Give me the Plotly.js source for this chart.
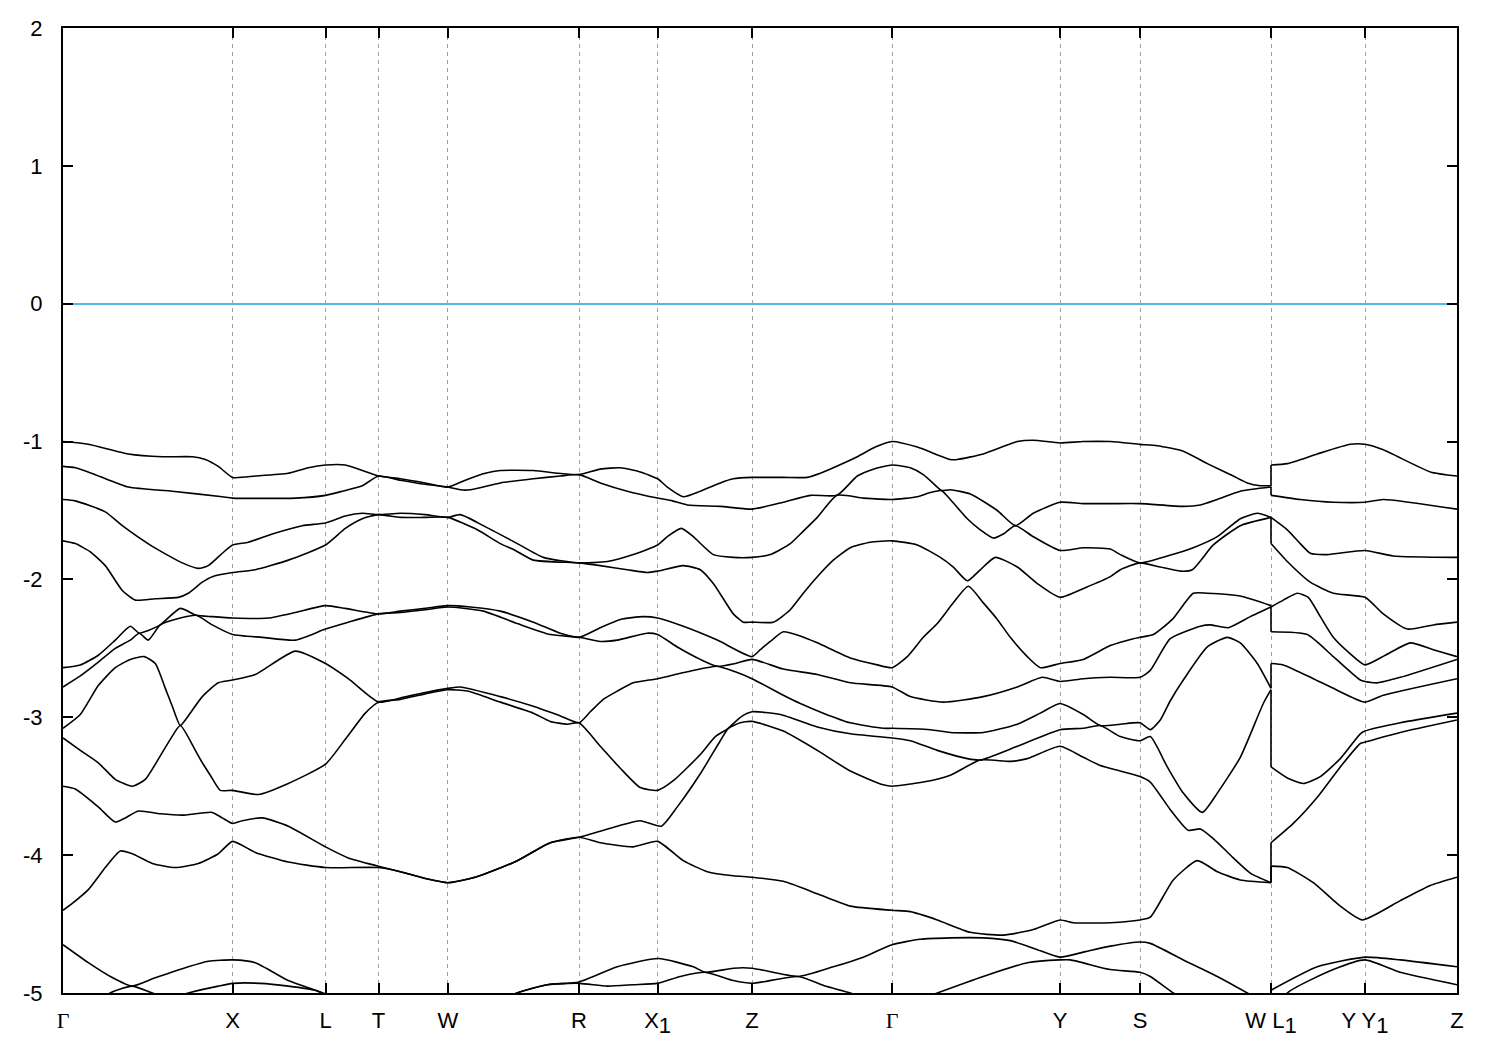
<!DOCTYPE html>
<html>
<head>
<meta charset="utf-8">
<script src="https://cdn.plot.ly/plotly-3.0.1.min.js"></script>
<style>html,body{margin:0;padding:0;background:#fff}#chart{width:1500px;height:1050px}</style>
</head>
<body>
<div id="chart"></div>
<script>
// High-symmetry points along the k-path (path distance, arbitrary units)
const kTicks = [62.7, 232.3, 325.2, 378.2, 447.5, 578.7, 657.3, 751.7, 891.7, 1059.7, 1139.7, 1270.7, 1364.7, 1456.7];
const G = '<span style="font-family:Liberation Serif">Γ</span>';
const S1 = '<sub><span style="font-size:22px">1</span></sub>';
const kLabels = [G, 'X', 'L', 'T', 'W', 'R', 'X' + S1, 'Z', G, 'Y', 'S', 'W L' + S1, 'Y Y' + S1, 'Z'];
const eTicks = [2, 1, 0, -1, -2, -3, -4, -5];
const eLabels = ['2', '1', '0', '-1', '-2', '-3', '-4', '-5'];

// Bands (k, E in eV), ordered by energy
const band01 = [[62.7,-1.00],[88,-1.02],[128,-1.09],[162,-1.11],[192,-1.11],[205,-1.13],[218,-1.18],[232.3,-1.26],
 [255,-1.25],[288,-1.23],[308,-1.19],[325.2,-1.17],[345,-1.17],[362,-1.21],[378.2,-1.25],
 [400,-1.27],[425,-1.30],[447.5,-1.33],[465,-1.28],[485,-1.23],[500,-1.21],[533,-1.21],[558,-1.23],[578.7,-1.24],
 [600,-1.20],[620,-1.19],[640,-1.22],[657.3,-1.27],[667,-1.33],[683,-1.40],[700,-1.36],[720,-1.30],[733,-1.27],[751.7,-1.26],
 [783,-1.26],[807,-1.26],[820,-1.23],[833,-1.19],[857,-1.11],[875,-1.04],[891.7,-1.00],
 [917,-1.04],[950,-1.13],[957,-1.13],[983,-1.09],[1017,-1.00],[1033,-0.99],[1059.7,-1.01],
 [1083,-1.00],[1110,-1.00],[1139.7,-1.02],[1157,-1.03],[1183,-1.07],[1207,-1.16],[1233,-1.25],[1247,-1.30],[1260,-1.32],[1270.7,-1.32],
 [1270.7,-1.17],[1287,-1.16],[1317,-1.09],[1350,-1.02],[1364.7,-1.02],[1383,-1.06],[1430,-1.22],[1456.7,-1.25]];

const band02 = [[62.7,-1.18],[75,-1.19],[95,-1.24],[128,-1.33],[172,-1.36],[222,-1.40],[232.3,-1.41],
 [295,-1.41],[325.2,-1.39],[342,-1.36],[362,-1.32],[378.2,-1.25],[400,-1.28],[425,-1.31],[447.5,-1.33],
 [460,-1.35],[470,-1.35],[500,-1.30],[533,-1.27],[560,-1.25],[578.7,-1.24],
 [600,-1.30],[627,-1.36],[657.3,-1.41],[672,-1.43],[687,-1.46],[720,-1.47],[751.7,-1.49],
 [783,-1.44],[810,-1.39],[836.7,-1.39],[857,-1.25],[873,-1.20],[891.7,-1.17],
 [910,-1.19],[923,-1.24],[937,-1.33],[941,-1.355],[950,-1.35],[970,-1.38],[997,-1.50],[1015,-1.61],[1033,-1.52],[1059.7,-1.44],
 [1083,-1.45],[1110,-1.45],[1139.7,-1.45],[1183,-1.47],[1200,-1.46],[1217,-1.42],[1240,-1.36],[1270.7,-1.33],
 [1270.7,-1.39],[1300,-1.42],[1333,-1.44],[1364.7,-1.44],[1383,-1.42],[1456.7,-1.49]];

const band03 = [[62.7,-1.42],[75,-1.43],[105,-1.51],[122,-1.61],[152,-1.76],[182,-1.88],[198,-1.92],[208,-1.90],[222,-1.81],[232.3,-1.75],
 [248,-1.73],[272,-1.67],[302,-1.61],[325.2,-1.59],[345,-1.54],[362,-1.52],[378.2,-1.53],
 [400,-1.52],[425,-1.53],[447.5,-1.55],[460,-1.53],[483,-1.61],[517,-1.74],[543,-1.84],[578.7,-1.88],
 [607,-1.87],[633,-1.82],[657.3,-1.75],[667,-1.69],[681,-1.63],[693,-1.69],[713,-1.82],[733,-1.84],[751.7,-1.84],
 [770,-1.82],[790,-1.74],[803,-1.65],[817,-1.55],[836.7,-1.39],[863,-1.41],[891.7,-1.42],
 [917,-1.40],[930,-1.37],[941,-1.355],[950,-1.42],[967,-1.56],[980,-1.64],[993,-1.70],[1003,-1.67],[1015,-1.61],[1033,-1.69],[1059.7,-1.79],
 [1083,-1.77],[1110,-1.78],[1120,-1.82],[1139.7,-1.88],[1167,-1.83],[1193,-1.77],[1217,-1.69],[1240,-1.56],[1257,-1.52],[1270.7,-1.55],
 [1270.7,-1.55],[1287,-1.64],[1300,-1.74],[1310,-1.81],[1327,-1.82],[1364.7,-1.79],[1393,-1.83],[1456.7,-1.84]];

const band04 = [[62.7,-1.72],[75,-1.74],[90,-1.80],[105,-1.90],[122,-2.08],[135,-2.15],[155,-2.14],[178,-2.13],[188,-2.10],[202,-2.02],[212,-1.98],[232.3,-1.95],
 [255,-1.93],[288,-1.86],[325.2,-1.75],[345,-1.63],[362,-1.56],[378.2,-1.53],
 [400,-1.55],[425,-1.55],[447.5,-1.55],[477,-1.64],[500,-1.74],[515,-1.79],[533,-1.86],[578.7,-1.88],
 [600,-1.90],[627,-1.93],[647,-1.95],[657.3,-1.94],[683,-1.90],[700,-1.93],[713,-2.03],[723,-2.14],[733,-2.25],[743,-2.31],[751.7,-2.31],
 [773,-2.31],[790,-2.22],[803,-2.10],[817,-1.98],[833,-1.86],[850,-1.77],[870,-1.73],[891.7,-1.72],
 [917,-1.75],[940,-1.84],[953,-1.91],[967,-2.01],[980,-1.93],[995,-1.84],[1017,-1.91],[1037,-2.03],[1059.7,-2.13],
 [1085,-2.06],[1110,-1.98],[1120,-1.93],[1139.7,-1.88],[1160,-1.91],[1180,-1.94],[1192,-1.93],[1213,-1.75],[1240,-1.61],[1270.7,-1.55],
 [1270.7,-1.74],[1287,-1.87],[1310,-2.02],[1333,-2.10],[1364.7,-2.13],[1383,-2.25],[1407,-2.36],[1433,-2.33],[1456.7,-2.31]];

const band05 = [[62.7,-2.64],[80,-2.62],[98,-2.55],[115,-2.44],[130,-2.34],[139,-2.39],[148,-2.37],[160,-2.33],[180,-2.21],[196,-2.26],[212,-2.27],[232.3,-2.28],
 [268,-2.28],[295,-2.24],[325.2,-2.19],[345,-2.21],[378.2,-2.25],[400,-2.23],[425,-2.21],[447.5,-2.19],
 [470,-2.20],[500,-2.23],[533,-2.31],[560,-2.39],[578.7,-2.42],[600,-2.35],[620,-2.29],[643,-2.27],[657.3,-2.28],
 [683,-2.34],[717,-2.44],[751.7,-2.56],[760,-2.51],[770,-2.45],[783,-2.38],[800,-2.41],[817,-2.46],[850,-2.57],[877,-2.62],[891.7,-2.64],
 [907,-2.56],[923,-2.42],[937,-2.32],[953,-2.17],[968,-2.05],[983,-2.17],[997,-2.29],[1010,-2.42],[1027,-2.56],[1040,-2.64],[1059.7,-2.61],
 [1083,-2.58],[1110,-2.48],[1133,-2.43],[1139.7,-2.42],[1153,-2.40],[1172,-2.29],[1193,-2.10],[1207,-2.10],[1240,-2.12],[1270.7,-2.19],
 [1270.7,-2.20],[1283,-2.15],[1297,-2.10],[1308,-2.13],[1320,-2.27],[1333,-2.42],[1350,-2.54],[1364.7,-2.62],
 [1385,-2.55],[1410,-2.46],[1433,-2.51],[1456.7,-2.56]];

const band06 = [[62.7,-2.78],[80,-2.70],[98,-2.60],[115,-2.50],[130,-2.44],[139,-2.39],[148,-2.44],[160,-2.33],[180,-2.28],[196,-2.26],[212,-2.33],[232.3,-2.40],
 [262,-2.42],[295,-2.44],[325.2,-2.36],[348,-2.31],[378.2,-2.25],[400,-2.24],[425,-2.22],[447.5,-2.20],
 [483,-2.23],[517,-2.32],[550,-2.40],[578.7,-2.42],[600,-2.45],[617,-2.44],[647,-2.39],[657.3,-2.40],
 [677,-2.49],[700,-2.58],[716.7,-2.63],[735,-2.61],[751.7,-2.58],[783,-2.65],[817,-2.69],[850,-2.75],[891.7,-2.78],
 [910,-2.85],[943,-2.89],[983,-2.85],[1017,-2.78],[1042,-2.71],[1059.7,-2.74],[1083,-2.72],[1110,-2.71],[1139.7,-2.71],
 [1150,-2.66],[1170,-2.43],[1200,-2.34],[1210,-2.33],[1228,-2.35],[1250,-2.27],[1270.7,-2.20],
 [1270.7,-2.38],[1307,-2.40],[1333,-2.56],[1360,-2.73],[1364.7,-2.74],[1377,-2.75],[1400,-2.71],[1456.7,-2.58]];

const band07 = [[62.7,-3.08],[80,-2.98],[98,-2.77],[115,-2.64],[130,-2.58],[144,-2.56],[155,-2.61],[165,-2.79],[172,-2.92],[180,-3.06],[186,-3.01],[202,-2.85],[218,-2.75],[232.3,-2.73],
 [255,-2.69],[295,-2.52],[325.2,-2.61],[348,-2.72],[378.2,-2.89],[400,-2.86],[425,-2.82],[447.5,-2.79],
 [460,-2.78],[500,-2.85],[533,-2.92],[560,-2.99],[578.7,-3.04],[590,-2.96],[603,-2.87],[617,-2.81],[633,-2.75],[657.3,-2.72],
 [687,-2.67],[716.7,-2.63],[735,-2.67],[751.7,-2.72],[783,-2.84],[800,-2.90],[823,-2.97],[850,-3.04],[883,-3.08],[891.7,-3.08],
 [930,-3.09],[950,-3.11],[983,-3.11],[1017,-3.05],[1040,-2.97],[1059.7,-2.90],[1083,-2.98],[1100,-3.06],[1120,-3.05],[1139.7,-3.04],
 [1150,-3.09],[1160,-3.02],[1170,-2.88],[1183,-2.73],[1207,-2.49],[1227,-2.42],[1240,-2.46],[1257,-2.61],[1270.7,-2.79],
 [1270.7,-2.61],[1283,-2.62],[1313,-2.72],[1333,-2.79],[1364.7,-2.89],[1383,-2.84],[1456.7,-2.72]];

const band08 = [[62.7,-3.15],[80,-3.24],[98,-3.33],[115,-3.45],[132,-3.50],[145,-3.45],[160,-3.28],[170,-3.16],[180,-3.06],[195,-3.24],[202,-3.33],[210,-3.42],[220,-3.53],[232.3,-3.53],
 [258,-3.56],[288,-3.48],[325.2,-3.34],[345,-3.16],[365,-2.97],[378.2,-2.89],[400,-2.87],[425,-2.83],[447.5,-2.80],
 [467,-2.81],[500,-2.89],[533,-2.97],[550,-3.03],[567,-3.05],[578.7,-3.04],[600,-3.21],[620,-3.37],[640,-3.51],[657.3,-3.53],
 [673,-3.46],[700,-3.27],[715,-3.14],[728,-3.08],[740,-3.00],[751.7,-2.96],[780,-2.98],[817,-3.07],[850,-3.12],[891.7,-3.15],
 [910,-3.17],[937,-3.24],[967,-3.30],[980,-3.31],[1017,-3.21],[1059.7,-3.09],[1083,-3.08],[1100,-3.06],[1120,-3.14],[1139.7,-3.17],
 [1150,-3.14],[1167,-3.36],[1183,-3.55],[1202,-3.69],[1217,-3.55],[1240,-3.29],[1263,-2.90],[1270.7,-2.80],
 [1270.7,-3.36],[1287,-3.44],[1303,-3.48],[1320,-3.43],[1340,-3.30],[1360,-3.12],[1364.7,-3.10],[1400,-3.04],[1456.7,-2.97]];

const band09 = [[62.7,-3.50],[75,-3.52],[98,-3.65],[115,-3.76],[125,-3.73],[138,-3.68],[160,-3.70],[182,-3.71],[212,-3.69],[222,-3.73],[232.3,-3.77],
 [242,-3.75],[262,-3.73],[288,-3.79],[325.2,-3.94],[348,-4.02],[378.2,-4.08],[400,-4.12],[425,-4.17],[447.5,-4.20],
 [470,-4.17],[483,-4.14],[517,-4.04],[550,-3.91],[578.7,-3.87],[617,-3.79],[640,-3.75],[661,-3.79],
 [677,-3.65],[700,-3.41],[720,-3.17],[728,-3.08],[740,-3.04],[751.7,-3.03],[783,-3.10],[817,-3.24],[850,-3.39],[883,-3.49],[891.7,-3.50],
 [923,-3.47],[950,-3.42],[980,-3.31],[1010,-3.32],[1027,-3.30],[1059.7,-3.21],[1083,-3.29],[1100,-3.35],[1120,-3.39],[1139.7,-3.43],
 [1150,-3.47],[1170,-3.67],[1188,-3.82],[1200,-3.81],[1213,-3.88],[1233,-4.02],[1250,-4.13],[1270.7,-4.20],
 [1270.7,-3.91],[1293,-3.77],[1317,-3.58],[1340,-3.36],[1360,-3.19],[1364.7,-3.18],[1400,-3.11],[1456.7,-3.02]];

const band10 = [[62.7,-4.40],[72,-4.35],[88,-4.25],[105,-4.09],[120,-3.97],[132,-3.99],[152,-4.06],[175,-4.09],[198,-4.06],[218,-3.99],[232.3,-3.90],
 [255,-3.98],[288,-4.05],[325.2,-4.09],[378.2,-4.09],[400,-4.12],[425,-4.17],[447.5,-4.20],
 [470,-4.17],[483,-4.14],[517,-4.04],[550,-3.91],[578.7,-3.87],[600,-3.91],[633,-3.94],[657.3,-3.90],
 [683,-4.04],[707,-4.12],[733,-4.15],[751.7,-4.16],[783,-4.19],[817,-4.28],[850,-4.37],[891.7,-4.40],
 [910,-4.41],[937,-4.47],[970,-4.56],[1003,-4.58],[1033,-4.54],[1059.7,-4.47],[1073,-4.49],[1110,-4.49],[1139.7,-4.47],
 [1150,-4.45],[1173,-4.18],[1197,-4.04],[1217,-4.12],[1240,-4.18],[1270.7,-4.20],
 [1270.7,-4.08],[1287,-4.09],[1313,-4.20],[1340,-4.37],[1362,-4.47],[1400,-4.33],[1430,-4.22],[1456.7,-4.16]];

const band11 = [[62.7,-4.65],[88,-4.78],[110,-4.88],[131.7,-4.95],[155,-4.89],[188,-4.81],[208,-4.77],[232.3,-4.76],
 [255,-4.78],[288,-4.91],[315,-4.98],[330,-5.02],[360,-5.12],[420,-5.25],[480,-5.12],
 [516.7,-5.00],[547,-4.94],[578.7,-4.92],[617,-4.81],[658,-4.75],[693,-4.81],[705,-4.85],[733,-4.82],[751.7,-4.82],
 [798,-4.88],[833,-4.81],[863,-4.74],[891.7,-4.65],[920,-4.61],[950,-4.60],[983,-4.60],[1010,-4.62],[1035,-4.68],[1059.7,-4.74],
 [1085,-4.70],[1110,-4.66],[1139.7,-4.63],[1150,-4.64],[1183,-4.76],[1217,-4.88],[1247,-5.00],[1270.7,-5.10],
 [1270.7,-4.98],[1317,-4.81],[1364.7,-4.74],[1400,-4.76],[1456.7,-4.81]];

const band12 = [[62.7,-5.30],[90,-5.12],[110,-5.00],[131.7,-4.95],[152,-5.00],[170,-5.04],[188,-5.00],[218,-4.95],[232.3,-4.93],
 [260,-4.93],[288,-4.95],[315,-4.98],[330,-5.03],[360,-5.15],[420,-5.28],[480,-5.15],
 [516.7,-5.00],[547,-4.94],[578.7,-4.93],[607,-4.95],[633,-4.94],[657,-4.93],[680,-4.88],[705,-4.85],[733,-4.91],[751.7,-4.93],
 [798,-4.88],[825,-4.95],[850,-5.00],[870,-5.06],[891.7,-5.12],[915,-5.06],[937,-5.00],[983,-4.88],[1027,-4.78],[1059.7,-4.76],
 [1070,-4.76],[1110,-4.83],[1139.7,-4.85],[1150,-4.88],[1173,-5.00],[1200,-5.12],[1270.7,-5.30],
 [1270.7,-5.20],[1287,-5.00],[1333,-4.83],[1364.7,-4.76],[1400,-4.85],[1456.7,-4.94]];

const bands = [band01, band02, band03, band04, band05, band06, band07, band08, band09, band10, band11, band12];

// Split each band at the path discontinuity (two points sharing one k):
// smooth pieces on either side, a straight connector across the jump.
const traces = [];
const style = {color: '#000000', width: 1.6};
bands.forEach(b => {
  let cut = -1;
  for (let i = 1; i < b.length; i++) if (b[i][0] === b[i - 1][0]) { cut = i; break; }
  const pieces = cut < 0 ? [b] : [b.slice(0, cut), b.slice(cut)];
  pieces.forEach(p => traces.push({
    type: 'scatter', mode: 'lines', x: p.map(q => q[0]), y: p.map(q => q[1]),
    line: Object.assign({shape: 'spline', smoothing: 0.55}, style), hoverinfo: 'skip'
  }));
  if (cut > 0) traces.push({
    type: 'scatter', mode: 'lines', x: [b[cut - 1][0], b[cut][0]], y: [b[cut - 1][1], b[cut][1]],
    line: style, hoverinfo: 'skip'
  });
});

const font = {family: 'Liberation Sans, Arial, sans-serif', size: 22, color: '#000'};

const layout = {
  width: 1500, height: 1050,
  margin: {l: 63, r: 43, t: 28, b: 57},
  paper_bgcolor: '#fff', plot_bgcolor: '#fff',
  showlegend: false,
  font: font,
  xaxis: {
    range: [kTicks[0], kTicks[kTicks.length - 1]],
    tickmode: 'array', tickvals: kTicks, ticktext: kLabels,
    ticks: 'inside', ticklen: 10, tickwidth: 2, tickcolor: '#000',
    showline: true, linecolor: '#000', linewidth: 2, mirror: 'ticks',
    showgrid: true, gridcolor: '#a0a0a0', gridwidth: 1, griddash: '4px,4px',
    zeroline: false, tickfont: font, ticklabelstandoff: 7
  },
  yaxis: {
    range: [-5, 2],
    tickmode: 'array', tickvals: eTicks, ticktext: eLabels,
    ticks: 'inside', ticklen: 10, tickwidth: 2, tickcolor: '#000',
    showline: true, linecolor: '#000', linewidth: 2, mirror: 'ticks',
    showgrid: false,
    zeroline: true, zerolinecolor: '#56b4e9', zerolinewidth: 1.6,
    tickfont: font, ticklabelstandoff: 14
  }
};

Plotly.newPlot('chart', traces, layout, {displayModeBar: false, staticPlot: true});
</script>
</body>
</html>
